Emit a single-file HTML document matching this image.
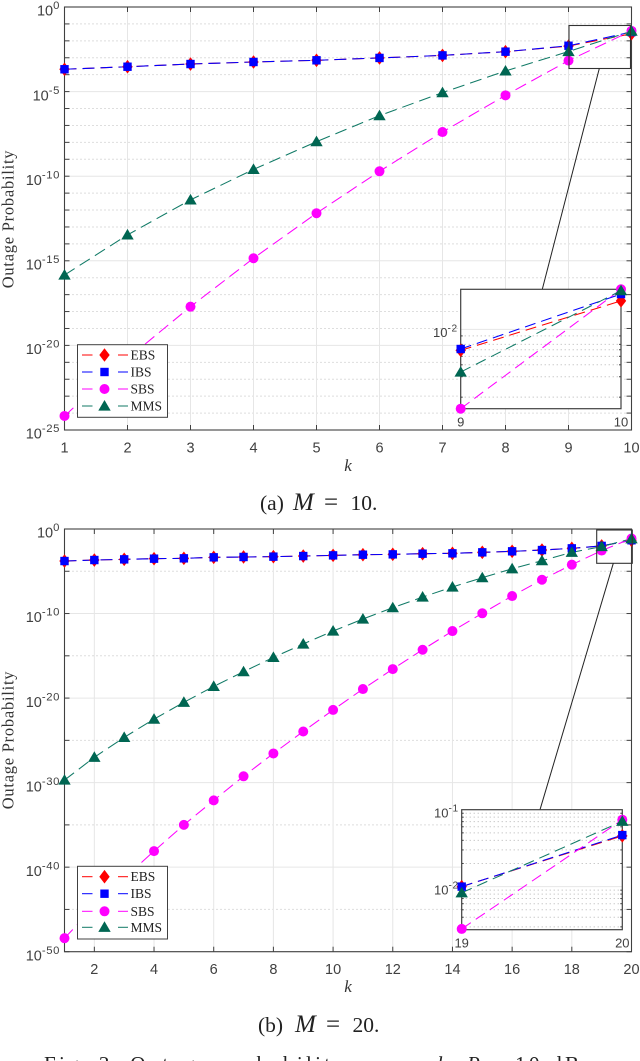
<!DOCTYPE html>
<html lang="en">
<head>
<meta charset="utf-8">
<title>Outage probability versus k</title>
<style>
html,body{margin:0;padding:0;background:#fff;}
body{width:640px;height:1061px;overflow:hidden;}
svg{display:block;}
.tick{font-family:"Liberation Sans",sans-serif;fill:#404040;}
.serif{font-family:"Liberation Serif",serif;}
</style>
</head>
<body>
<svg id="figure" xmlns="http://www.w3.org/2000/svg" width="640" height="1061" viewBox="0 0 640 1061">
  <text class="serif" transform="translate(13.5,219) rotate(-90)" text-anchor="middle" font-size="16.5" letter-spacing="0.75" fill="#333">Outage Probability</text>
  <text class="serif" x="348" y="471" text-anchor="middle" font-size="17" font-style="italic" fill="#333">k</text>
  <text class="serif" y="510" font-size="21.5" fill="#222"><tspan x="260">(a)</tspan><tspan x="293" font-size="25" font-style="italic">M</tspan><tspan x="324" font-size="25">=</tspan><tspan x="350.5">10.</tspan></text>
  <text class="serif" transform="translate(13.5,740) rotate(-90)" text-anchor="middle" font-size="16.5" letter-spacing="0.75" fill="#333">Outage Probability</text>
  <text class="serif" x="348" y="992" text-anchor="middle" font-size="17" font-style="italic" fill="#333">k</text>
  <text class="serif" y="1032" font-size="21.5" fill="#222"><tspan x="258">(b)</tspan><tspan x="295" font-size="25" font-style="italic">M</tspan><tspan x="326" font-size="25">=</tspan><tspan x="352.5">20.</tspan></text>
  <text class="serif" x="44" y="1071" font-size="21" fill="#222" textLength="535">Fig. 3: Outage probability versus <tspan font-style="italic">k</tspan>, <tspan font-style="italic">P</tspan> = 10 dB</text>
</svg>
<script>
// Chart (a): M = 10, values are log10 of the outage probability
const kA = [1,2,3,4,5,6,7,8,9,10];
const ebsA = [-3.68,-3.53,-3.37,-3.25,-3.15,-3.01,-2.86,-2.64,-2.31,-1.58];
const ibsA = [-3.68,-3.53,-3.37,-3.25,-3.15,-3.01,-2.86,-2.64,-2.29,-1.48];
const sbsA = [-24.17,-20.78,-17.71,-14.85,-12.19,-9.71,-7.39,-5.22,-3.17,-1.41];
const mmsA = [-15.84,-13.47,-11.4,-9.6,-7.96,-6.42,-5.06,-3.78,-2.63,-1.43];
const xTicksA = [1,2,3,4,5,6,7,8,9,10];
const yMajorA = [0,-5,-10,-15,-20,-25];
const yMinorA = [-1,-2,-3,-4,-6,-7,-8,-9,-11,-12,-13,-14,-16,-17,-18,-19,-21,-22,-23,-24];

// Chart (b): M = 20
const kB = [1,2,3,4,5,6,7,8,9,10,11,12,13,14,15,16,17,18,19,20];
const ebsB = [-3.79,-3.67,-3.59,-3.51,-3.47,-3.35,-3.31,-3.27,-3.2,-3.12,-3.04,-3.0,-2.92,-2.88,-2.76,-2.64,-2.49,-2.29,-2.0,-1.34];
const ibsB = [-3.79,-3.67,-3.59,-3.51,-3.47,-3.35,-3.31,-3.27,-3.2,-3.12,-3.04,-3.0,-2.92,-2.88,-2.76,-2.64,-2.49,-2.29,-2.0,-1.33];
const sbsB = [-48.4,-44.7,-41.3,-38.1,-35.0,-32.1,-29.25,-26.55,-23.95,-21.4,-18.93,-16.57,-14.28,-12.07,-9.97,-7.93,-6.0,-4.22,-2.55,-1.13];
const mmsB = [-29.7,-27.0,-24.65,-22.49,-20.5,-18.62,-16.88,-15.19,-13.6,-12.07,-10.65,-9.31,-8.05,-6.86,-5.76,-4.7,-3.75,-2.76,-2.08,-1.15];
const xTicksB = [2,4,6,8,10,12,14,16,18,20];
const yMajorB = [0,-10,-20,-30,-40,-50];
const yMinorB = [-5,-15,-25,-35,-45];

// Inset tick values (log10)
const insetMajorA = [-2];
const insetMinorA = [-2.097,-2.222,-2.301,-2.398,-2.523,-2.699,-3];
const insetMajorB = [-1,-2];
const insetMinorB = [-1.046,-1.097,-1.155,-1.222,-1.301,-1.398,-1.523,-1.699,-2.046,-2.097,-2.155,-2.222,-2.301,-2.398,-2.523];

const legendLabels = ['EBS','IBS','SBS','MMS'];
const seriesColors = ['#ff0000','#0000ff','#ff00ff','#006652'];
const seriesLine = ['#ff0000','#0000ff','#ff00ff','#107a66'];

const NS = 'http://www.w3.org/2000/svg';
const root = document.getElementById('figure');

function mk(parent, tag, attrs, name) {
  const el = document.createElementNS(NS, tag);
  for (const key in attrs) el.setAttribute(key, attrs[key]);
  
  
  parent.appendChild(el);
  return el;
}

function marker(parent, type, cx, cy, color, s) {
  if (type === 0) {
    mk(parent, 'polygon', {points:`${cx},${cy-6.8*s} ${cx+5.2*s},${cy} ${cx},${cy+6.8*s} ${cx-5.2*s},${cy}`, fill:color}, 'ebs-marker');
  } else if (type === 1) {
    mk(parent, 'rect', {x:cx-4.2*s, y:cy-4.2*s, width:8.4*s, height:8.4*s, fill:color}, 'ibs-marker');
  } else if (type === 2) {
    mk(parent, 'circle', {cx:cx, cy:cy, r:5*s, fill:color}, 'sbs-marker');
  } else {
    mk(parent, 'polygon', {points:`${cx},${cy-6*s} ${cx+6.2*s},${cy+4.6*s} ${cx-6.2*s},${cy+4.6*s}`, fill:color}, 'mms-marker');
  }
}

function powerLabel(parent, x, y, exp, size, name) {
  const t = mk(parent, 'text', {x:x, y:y + size * 0.6, 'text-anchor':'end', 'font-size':size, class:'tick'}, name);
  const base = document.createElementNS(NS, 'tspan');
  base.textContent = '10';
  t.appendChild(base);
  const sup = document.createElementNS(NS, 'tspan');
  sup.setAttribute('dy', -size * 0.45);
  sup.setAttribute('font-size', size * 0.78);
  sup.setAttribute('letter-spacing', '0.6');
  sup.textContent = String(exp);
  t.appendChild(sup);
}

function drawSeries(g, keys, series, sx, sy, dash, s) {
  series.forEach(function (vals, i) {
    const pts = vals.map(function (v, j) { return sx(keys[j]) + ',' + sy(v); }).join(' ');
    mk(g, 'polyline', {points:pts, fill:'none', stroke:seriesLine[i], 'stroke-width':1.05, 'stroke-dasharray':dash}, legendLabels[i].toLowerCase() + '-line');
  });
  series.forEach(function (vals, i) {
    vals.forEach(function (v, j) {
      marker(g, i, sx(keys[j]), sy(v), seriesColors[i], s);
    });
  });
}

function drawChart(c) {
  const g = mk(root, 'g', {}, c.name);
  const sx = function (v) { return c.left + (v - c.xMin) / (c.xMax - c.xMin) * (c.right - c.left); };
  const sy = function (v) { return c.top + (0 - v) / (0 - c.yMin) * (c.bottom - c.top); };

  c.yMajor.forEach(function (v) {
    mk(g, 'line', {x1:c.left, x2:c.right, y1:sy(v), y2:sy(v), stroke:'#e6e6e6', 'stroke-width':1}, 'y-major-gridline');
  });
  c.yMinor.forEach(function (v) {
    mk(g, 'line', {x1:c.left, x2:c.right, y1:sy(v), y2:sy(v), stroke:'#bcbcbc', 'stroke-width':1, 'stroke-dasharray':'1 3'}, 'y-minor-gridline');
  });
  c.xTicks.forEach(function (v) {
    mk(g, 'line', {x1:sx(v), x2:sx(v), y1:c.top, y2:c.bottom, stroke:'#e6e6e6', 'stroke-width':1}, 'x-gridline');
    mk(g, 'line', {x1:sx(v), x2:sx(v), y1:c.bottom, y2:c.bottom - 5, stroke:'#404040', 'stroke-width':1}, 'x-tick');
    mk(g, 'line', {x1:sx(v), x2:sx(v), y1:c.top, y2:c.top + 5, stroke:'#404040', 'stroke-width':1}, 'x-tick-top');
    const lbl = mk(g, 'text', {x:sx(v), y:c.bottom + 22.5, 'text-anchor':'middle', 'font-size':14.5, class:'tick'}, 'x-tick-label');
    lbl.textContent = String(v);
  });
  c.yMajor.concat(c.yMinor).forEach(function (v) {
    mk(g, 'line', {x1:c.left, x2:c.left + 5, y1:sy(v), y2:sy(v), stroke:'#404040', 'stroke-width':1}, 'y-tick');
    mk(g, 'line', {x1:c.right, x2:c.right - 5, y1:sy(v), y2:sy(v), stroke:'#404040', 'stroke-width':1}, 'y-tick-right');
  });
  c.yMajor.forEach(function (v) {
    powerLabel(g, 60, sy(v), v, 14.5, 'y-tick-label');
  });
  mk(g, 'rect', {x:c.left, y:c.top, width:c.right - c.left, height:c.bottom - c.top, fill:'none', stroke:'#404040', 'stroke-width':1.1}, 'axes-box');

  drawSeries(g, c.keys, c.series, sx, sy, '12 6', 1);

  // zoom rectangle and connector
  const z = c.zoom;
  mk(g, 'rect', {x:z.x, y:z.y, width:z.w, height:z.h, fill:'none', stroke:'#333', 'stroke-width':1.1}, 'zoom-region-box');
  mk(g, 'line', {x1:z.cx1, y1:z.y + z.h, x2:z.cx2, y2:c.inset.top, stroke:'#222', 'stroke-width':1}, 'zoom-connector');

  // inset
  const n = c.inset;
  const ig = mk(g, 'g', {}, 'zoom-inset');
  const ix = function (v) { return n.left + (v - n.xMin) / (n.xMax - n.xMin) * (n.right - n.left); };
  const iy = function (v) { return n.top + (n.yMax - v) / (n.yMax - n.yMin) * (n.bottom - n.top); };
  mk(ig, 'rect', {x:n.left, y:n.top, width:n.right - n.left, height:n.bottom - n.top, fill:'#fff'}, 'inset-background');
  n.major.forEach(function (v) {
    if (iy(v) > n.top + 1) mk(ig, 'line', {x1:n.left, x2:n.right, y1:iy(v), y2:iy(v), stroke:'#e6e6e6', 'stroke-width':1}, 'inset-major-gridline');
  });
  n.minor.forEach(function (v) {
    mk(ig, 'line', {x1:n.left, x2:n.right, y1:iy(v), y2:iy(v), stroke:'#b4b4b4', 'stroke-width':1, 'stroke-dasharray':'1 3'}, 'inset-minor-gridline');
    mk(ig, 'line', {x1:n.left, x2:n.left + 2, y1:iy(v), y2:iy(v), stroke:'#404040', 'stroke-width':1}, 'inset-y-tick');
    mk(ig, 'line', {x1:n.right, x2:n.right - 2, y1:iy(v), y2:iy(v), stroke:'#404040', 'stroke-width':1}, 'inset-y-tick-right');
  });
  mk(ig, 'rect', {x:n.left, y:n.top, width:n.right - n.left, height:n.bottom - n.top, fill:'none', stroke:'#404040', 'stroke-width':1.2}, 'inset-box');
  n.major.forEach(function (v) {
    powerLabel(ig, n.left - 3, iy(v), v, 13, 'inset-y-tick-label');
  });
  [n.xMin, n.xMax].forEach(function (v) {
    const lbl = mk(ig, 'text', {x:ix(v), y:n.bottom + 18, 'text-anchor':'middle', 'font-size':13, class:'tick'}, 'inset-x-tick-label');
    lbl.textContent = String(v);
  });
  const inKeys = c.keys.slice(-2);
  const inSeries = c.series.map(function (s) { return s.slice(-2); });
  drawSeries(ig, inKeys, inSeries, ix, iy, '11 6', 1);

  // legend
  const L = c.legend;
  const lg = mk(g, 'g', {}, 'legend');
  mk(lg, 'rect', {x:77.5, y:L.y, width:90, height:L.h, fill:'#fff', stroke:'#404040', 'stroke-width':1}, 'legend-box');
  legendLabels.forEach(function (label, i) {
    const y = L.rows[i];
    mk(lg, 'line', {x1:82, x2:92.5, y1:y, y2:y, stroke:seriesLine[i], 'stroke-width':1}, 'legend-line');
    mk(lg, 'line', {x1:118, x2:128, y1:y, y2:y, stroke:seriesLine[i], 'stroke-width':1}, 'legend-line');
    marker(lg, i, 104.5, y, seriesColors[i], 1);
    const t = mk(lg, 'text', {x:130.5, y:y + 4.5, 'font-size':13.5, class:'serif', fill:'#222'}, 'legend-label');
    t.textContent = label;
  });
}

drawChart({
  name:'chart-m10', left:64.5, right:631.5, top:7, bottom:430,
  xMin:1, xMax:10, yMin:-25,
  keys:kA, series:[ebsA, ibsA, sbsA, mmsA],
  xTicks:xTicksA, yMajor:yMajorA, yMinor:yMinorA,
  zoom:{x:569, y:25.5, w:61.5, h:43, cx1:599.3, cx2:542.3},
  inset:{left:460.7, right:621, top:289.3, bottom:408.7, xMin:9, xMax:10, yMin:-3.17, yMax:-1.41, major:insetMajorA, minor:insetMinorA},
  legend:{y:344.7, h:72.6, rows:[355,372,389,406]}
});

drawChart({
  name:'chart-m20', left:64.5, right:631.5, top:529, bottom:951.7,
  xMin:1, xMax:20, yMin:-50,
  keys:kB, series:[ebsB, ibsB, sbsB, mmsB],
  xTicks:xTicksB, yMajor:yMajorB, yMinor:yMinorB,
  zoom:{x:596.7, y:530, w:35.6, h:33.3, cx1:613.3, cx2:540},
  inset:{left:461.7, right:622.3, top:809.7, bottom:929.7, xMin:19, xMax:20, yMin:-2.56, yMax:-1, major:insetMajorB, minor:insetMinorB},
  legend:{y:866.3, h:72.7, rows:[876.7,893.7,911.3,927.3]}
});
</script>
</body>
</html>
